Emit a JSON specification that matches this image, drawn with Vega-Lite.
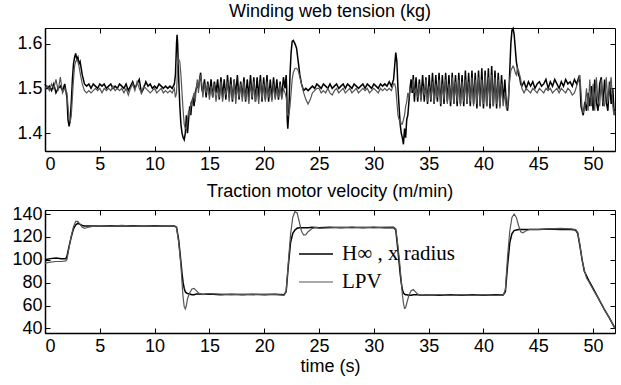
{
"$schema": "https://vega.github.io/schema/vega-lite/v6.json",
"background": "white",
"padding": {"left": 4, "top": 2, "right": 6, "bottom": 4},
"config": {
 "font": "Liberation Sans",
 "view": {"stroke": "black", "strokeWidth": 1},
 "axis": {"labelFont": "Liberation Sans", "labelFontSize": 18, "labelColor": "black", "tickColor": "black", "domainColor": "black", "domainWidth": 1.5, "tickSize": -5, "tickWidth": 1, "grid": false, "titleFont": "Liberation Sans", "titleFontSize": 18, "titleFontWeight": "normal", "titleColor": "black", "labelPadding": 8},
 "axisX": {"labelPadding": 9},
 "title": {"font": "Liberation Sans", "fontSize": 18, "fontWeight": "normal", "color": "black", "offset": 4},
 "legend": {"padding": 0}
},
"datasets": {
"tension": [
{"t":0.0,"Hinf":1.51,"LPV":1.50},{"t":0.2,"Hinf":1.50,"LPV":1.505},{"t":0.4,"Hinf":1.505,"LPV":1.495},{"t":0.6,"Hinf":1.495,"LPV":1.51},{"t":0.8,"Hinf":1.51,"LPV":1.50},{"t":1.0,"Hinf":1.49,"LPV":1.52},{"t":1.2,"Hinf":1.50,"LPV":1.495},{"t":1.4,"Hinf":1.505,"LPV":1.525},{"t":1.6,"Hinf":1.495,"LPV":1.49},{"t":1.8,"Hinf":1.51,"LPV":1.50},
{"t":2.0,"Hinf":1.48,"LPV":1.49},{"t":2.1,"Hinf":1.43,"LPV":1.46},{"t":2.2,"Hinf":1.415,"LPV":1.43},{"t":2.3,"Hinf":1.43,"LPV":1.425},{"t":2.4,"Hinf":1.47,"LPV":1.44},{"t":2.5,"Hinf":1.52,"LPV":1.48},{"t":2.6,"Hinf":1.555,"LPV":1.52},{"t":2.7,"Hinf":1.57,"LPV":1.55},{"t":2.8,"Hinf":1.578,"LPV":1.56},{"t":2.9,"Hinf":1.565,"LPV":1.565},{"t":3.0,"Hinf":1.57,"LPV":1.56},{"t":3.1,"Hinf":1.555,"LPV":1.55},{"t":3.2,"Hinf":1.56,"LPV":1.535},{"t":3.4,"Hinf":1.53,"LPV":1.51},{"t":3.6,"Hinf":1.51,"LPV":1.495},{"t":3.8,"Hinf":1.505,"LPV":1.49},{"t":4.0,"Hinf":1.51,"LPV":1.495},
{"t":4.2,"Hinf":1.50,"LPV":1.49},{"t":4.4,"Hinf":1.51,"LPV":1.495},{"t":4.6,"Hinf":1.505,"LPV":1.50},{"t":4.8,"Hinf":1.50,"LPV":1.495},{"t":5.0,"Hinf":1.51,"LPV":1.50},{"t":5.2,"Hinf":1.505,"LPV":1.49},{"t":5.4,"Hinf":1.51,"LPV":1.50},{"t":5.6,"Hinf":1.50,"LPV":1.495},{"t":5.8,"Hinf":1.505,"LPV":1.50},{"t":6.0,"Hinf":1.51,"LPV":1.495},{"t":6.2,"Hinf":1.50,"LPV":1.505},{"t":6.4,"Hinf":1.505,"LPV":1.495},{"t":6.6,"Hinf":1.50,"LPV":1.50},{"t":6.8,"Hinf":1.51,"LPV":1.495},{"t":7.0,"Hinf":1.505,"LPV":1.50},{"t":7.2,"Hinf":1.50,"LPV":1.49},{"t":7.4,"Hinf":1.51,"LPV":1.50},{"t":7.6,"Hinf":1.495,"LPV":1.485},{"t":7.8,"Hinf":1.505,"LPV":1.50},{"t":8.0,"Hinf":1.515,"LPV":1.51},{"t":8.2,"Hinf":1.50,"LPV":1.495},{"t":8.4,"Hinf":1.51,"LPV":1.515},{"t":8.6,"Hinf":1.52,"LPV":1.50},{"t":8.8,"Hinf":1.49,"LPV":1.49},{"t":9.0,"Hinf":1.50,"LPV":1.505},{"t":9.2,"Hinf":1.515,"LPV":1.50},{"t":9.4,"Hinf":1.505,"LPV":1.495},{"t":9.6,"Hinf":1.51,"LPV":1.49},{"t":9.8,"Hinf":1.50,"LPV":1.495},{"t":10.0,"Hinf":1.505,"LPV":1.50},{"t":10.2,"Hinf":1.50,"LPV":1.49},{"t":10.4,"Hinf":1.51,"LPV":1.495},{"t":10.6,"Hinf":1.505,"LPV":1.50},{"t":10.8,"Hinf":1.50,"LPV":1.49},{"t":11.0,"Hinf":1.505,"LPV":1.495},{"t":11.2,"Hinf":1.50,"LPV":1.49},{"t":11.4,"Hinf":1.505,"LPV":1.495},{"t":11.6,"Hinf":1.50,"LPV":1.49},{"t":11.8,"Hinf":1.51,"LPV":1.50},
{"t":11.9,"Hinf":1.53,"LPV":1.48},{"t":12.0,"Hinf":1.60,"LPV":1.49},{"t":12.05,"Hinf":1.62,"LPV":1.52},{"t":12.1,"Hinf":1.60,"LPV":1.55},{"t":12.2,"Hinf":1.52,"LPV":1.565},{"t":12.3,"Hinf":1.46,"LPV":1.56},{"t":12.4,"Hinf":1.42,"LPV":1.53},{"t":12.5,"Hinf":1.40,"LPV":1.49},{"t":12.6,"Hinf":1.39,"LPV":1.45},{"t":12.7,"Hinf":1.385,"LPV":1.42},{"t":12.8,"Hinf":1.40,"LPV":1.41},{"t":12.9,"Hinf":1.44,"LPV":1.41},{"t":13.0,"Hinf":1.40,"LPV":1.43},{"t":13.1,"Hinf":1.43,"LPV":1.45},{"t":13.2,"Hinf":1.46,"LPV":1.44},{"t":13.3,"Hinf":1.44,"LPV":1.47},{"t":13.4,"Hinf":1.47,"LPV":1.46},{"t":13.5,"Hinf":1.48,"LPV":1.48},{"t":13.6,"Hinf":1.46,"LPV":1.49},{"t":13.7,"Hinf":1.49,"LPV":1.47},{"t":13.8,"Hinf":1.50,"LPV":1.50},{"t":13.9,"Hinf":1.51,"LPV":1.52},{"t":14.0,"Hinf":1.50,"LPV":1.49},{"t":14.1,"Hinf":1.52,"LPV":1.52},{"t":14.2,"Hinf":1.535,"LPV":1.53},{"t":14.3,"Hinf":1.50,"LPV":1.51},{"t":14.4,"Hinf":1.49,"LPV":1.48},{"t":14.55,"Hinf":1.52,"LPV":1.51},
{"t":14.7,"Hinf":1.48,"LPV":1.49},{"t":14.85,"Hinf":1.515,"LPV":1.51},{"t":15.0,"Hinf":1.485,"LPV":1.475},{"t":15.15,"Hinf":1.52,"LPV":1.505},{"t":15.3,"Hinf":1.48,"LPV":1.48},{"t":15.45,"Hinf":1.515,"LPV":1.51},{"t":15.6,"Hinf":1.49,"LPV":1.47},{"t":15.75,"Hinf":1.52,"LPV":1.50},{"t":15.9,"Hinf":1.475,"LPV":1.48},{"t":16.05,"Hinf":1.525,"LPV":1.515},{"t":16.2,"Hinf":1.48,"LPV":1.47},{"t":16.35,"Hinf":1.52,"LPV":1.50},{"t":16.5,"Hinf":1.475,"LPV":1.485},{"t":16.65,"Hinf":1.53,"LPV":1.515},{"t":16.8,"Hinf":1.48,"LPV":1.47},{"t":16.95,"Hinf":1.525,"LPV":1.51},{"t":17.1,"Hinf":1.47,"LPV":1.475},{"t":17.25,"Hinf":1.52,"LPV":1.52},{"t":17.4,"Hinf":1.485,"LPV":1.465},{"t":17.55,"Hinf":1.53,"LPV":1.505},{"t":17.7,"Hinf":1.475,"LPV":1.48},{"t":17.85,"Hinf":1.515,"LPV":1.51},{"t":18.0,"Hinf":1.48,"LPV":1.47},{"t":18.15,"Hinf":1.525,"LPV":1.515},{"t":18.3,"Hinf":1.47,"LPV":1.475},{"t":18.45,"Hinf":1.52,"LPV":1.50},{"t":18.6,"Hinf":1.48,"LPV":1.465},{"t":18.75,"Hinf":1.53,"LPV":1.51},{"t":18.9,"Hinf":1.475,"LPV":1.48},{"t":19.05,"Hinf":1.525,"LPV":1.515},{"t":19.2,"Hinf":1.47,"LPV":1.47},{"t":19.35,"Hinf":1.525,"LPV":1.50},{"t":19.5,"Hinf":1.48,"LPV":1.465},{"t":19.65,"Hinf":1.53,"LPV":1.515},{"t":19.8,"Hinf":1.47,"LPV":1.475},{"t":19.95,"Hinf":1.525,"LPV":1.51},{"t":20.1,"Hinf":1.475,"LPV":1.47},{"t":20.25,"Hinf":1.53,"LPV":1.515},{"t":20.4,"Hinf":1.47,"LPV":1.48},{"t":20.55,"Hinf":1.52,"LPV":1.50},{"t":20.7,"Hinf":1.475,"LPV":1.47},{"t":20.85,"Hinf":1.525,"LPV":1.51},{"t":21.0,"Hinf":1.48,"LPV":1.475},{"t":21.15,"Hinf":1.52,"LPV":1.50},{"t":21.3,"Hinf":1.475,"LPV":1.48},{"t":21.45,"Hinf":1.515,"LPV":1.51},{"t":21.6,"Hinf":1.48,"LPV":1.475},{"t":21.75,"Hinf":1.525,"LPV":1.50},{"t":21.9,"Hinf":1.50,"LPV":1.49},{"t":22.0,"Hinf":1.53,"LPV":1.48},
{"t":22.05,"Hinf":1.50,"LPV":1.47},{"t":22.1,"Hinf":1.43,"LPV":1.45},{"t":22.15,"Hinf":1.41,"LPV":1.44},{"t":22.25,"Hinf":1.45,"LPV":1.44},{"t":22.35,"Hinf":1.53,"LPV":1.46},{"t":22.45,"Hinf":1.58,"LPV":1.49},{"t":22.55,"Hinf":1.605,"LPV":1.52},{"t":22.65,"Hinf":1.607,"LPV":1.535},{"t":22.8,"Hinf":1.60,"LPV":1.545},{"t":22.95,"Hinf":1.59,"LPV":1.545},{"t":23.1,"Hinf":1.56,"LPV":1.54},{"t":23.25,"Hinf":1.53,"LPV":1.525},{"t":23.4,"Hinf":1.51,"LPV":1.51},{"t":23.6,"Hinf":1.495,"LPV":1.49},{"t":23.8,"Hinf":1.50,"LPV":1.475},{"t":24.0,"Hinf":1.495,"LPV":1.465},{"t":24.2,"Hinf":1.50,"LPV":1.475},{"t":24.4,"Hinf":1.505,"LPV":1.49},{"t":24.6,"Hinf":1.50,"LPV":1.495},{"t":24.8,"Hinf":1.51,"LPV":1.50},
{"t":25.0,"Hinf":1.505,"LPV":1.50},{"t":25.2,"Hinf":1.50,"LPV":1.49},{"t":25.4,"Hinf":1.51,"LPV":1.495},{"t":25.6,"Hinf":1.505,"LPV":1.49},{"t":25.8,"Hinf":1.50,"LPV":1.50},{"t":26.0,"Hinf":1.51,"LPV":1.49},{"t":26.2,"Hinf":1.50,"LPV":1.485},{"t":26.4,"Hinf":1.505,"LPV":1.495},{"t":26.6,"Hinf":1.51,"LPV":1.50},{"t":26.8,"Hinf":1.50,"LPV":1.49},{"t":27.0,"Hinf":1.505,"LPV":1.495},{"t":27.2,"Hinf":1.51,"LPV":1.50},{"t":27.4,"Hinf":1.50,"LPV":1.49},{"t":27.6,"Hinf":1.51,"LPV":1.495},{"t":27.8,"Hinf":1.505,"LPV":1.50},{"t":28.0,"Hinf":1.50,"LPV":1.49},{"t":28.2,"Hinf":1.51,"LPV":1.495},{"t":28.4,"Hinf":1.505,"LPV":1.50},{"t":28.6,"Hinf":1.50,"LPV":1.49},{"t":28.8,"Hinf":1.505,"LPV":1.495},{"t":29.0,"Hinf":1.51,"LPV":1.50},{"t":29.2,"Hinf":1.50,"LPV":1.495},{"t":29.4,"Hinf":1.51,"LPV":1.50},{"t":29.6,"Hinf":1.505,"LPV":1.49},{"t":29.8,"Hinf":1.50,"LPV":1.495},{"t":30.0,"Hinf":1.51,"LPV":1.50},{"t":30.2,"Hinf":1.505,"LPV":1.495},{"t":30.4,"Hinf":1.50,"LPV":1.49},{"t":30.6,"Hinf":1.51,"LPV":1.50},{"t":30.8,"Hinf":1.505,"LPV":1.495},{"t":31.0,"Hinf":1.51,"LPV":1.50},{"t":31.2,"Hinf":1.505,"LPV":1.495},{"t":31.4,"Hinf":1.515,"LPV":1.50},{"t":31.6,"Hinf":1.505,"LPV":1.495},{"t":31.8,"Hinf":1.52,"LPV":1.51},
{"t":31.9,"Hinf":1.55,"LPV":1.51},{"t":32.0,"Hinf":1.58,"LPV":1.50},{"t":32.1,"Hinf":1.56,"LPV":1.47},{"t":32.2,"Hinf":1.50,"LPV":1.44},{"t":32.3,"Hinf":1.46,"LPV":1.43},{"t":32.4,"Hinf":1.42,"LPV":1.43},{"t":32.5,"Hinf":1.40,"LPV":1.42},{"t":32.6,"Hinf":1.39,"LPV":1.42},{"t":32.7,"Hinf":1.375,"LPV":1.43},{"t":32.8,"Hinf":1.41,"LPV":1.44},{"t":32.9,"Hinf":1.39,"LPV":1.46},{"t":33.0,"Hinf":1.43,"LPV":1.47},{"t":33.1,"Hinf":1.44,"LPV":1.49},{"t":33.2,"Hinf":1.47,"LPV":1.48},{"t":33.3,"Hinf":1.50,"LPV":1.50},{"t":33.4,"Hinf":1.52,"LPV":1.49},{"t":33.5,"Hinf":1.49,"LPV":1.50},{"t":33.6,"Hinf":1.53,"LPV":1.52},{"t":33.7,"Hinf":1.47,"LPV":1.49},
{"t":33.85,"Hinf":1.525,"LPV":1.50},{"t":34.0,"Hinf":1.47,"LPV":1.48},{"t":34.15,"Hinf":1.52,"LPV":1.51},{"t":34.3,"Hinf":1.475,"LPV":1.47},{"t":34.45,"Hinf":1.53,"LPV":1.505},{"t":34.6,"Hinf":1.47,"LPV":1.485},{"t":34.75,"Hinf":1.525,"LPV":1.52},{"t":34.9,"Hinf":1.465,"LPV":1.47},{"t":35.05,"Hinf":1.53,"LPV":1.505},{"t":35.2,"Hinf":1.47,"LPV":1.475},{"t":35.35,"Hinf":1.535,"LPV":1.515},{"t":35.5,"Hinf":1.465,"LPV":1.465},{"t":35.65,"Hinf":1.53,"LPV":1.51},{"t":35.8,"Hinf":1.47,"LPV":1.48},{"t":35.95,"Hinf":1.535,"LPV":1.52},{"t":36.1,"Hinf":1.46,"LPV":1.465},{"t":36.25,"Hinf":1.53,"LPV":1.51},{"t":36.4,"Hinf":1.465,"LPV":1.475},{"t":36.55,"Hinf":1.535,"LPV":1.52},{"t":36.7,"Hinf":1.47,"LPV":1.465},{"t":36.85,"Hinf":1.53,"LPV":1.51},{"t":37.0,"Hinf":1.46,"LPV":1.47},{"t":37.15,"Hinf":1.535,"LPV":1.525},{"t":37.3,"Hinf":1.465,"LPV":1.465},{"t":37.45,"Hinf":1.53,"LPV":1.515},{"t":37.6,"Hinf":1.46,"LPV":1.47},{"t":37.75,"Hinf":1.535,"LPV":1.52},{"t":37.9,"Hinf":1.465,"LPV":1.46},{"t":38.05,"Hinf":1.53,"LPV":1.515},{"t":38.2,"Hinf":1.46,"LPV":1.47},{"t":38.35,"Hinf":1.54,"LPV":1.52},{"t":38.5,"Hinf":1.465,"LPV":1.465},{"t":38.65,"Hinf":1.535,"LPV":1.515},{"t":38.8,"Hinf":1.46,"LPV":1.47},{"t":38.95,"Hinf":1.54,"LPV":1.525},{"t":39.1,"Hinf":1.465,"LPV":1.46},{"t":39.25,"Hinf":1.535,"LPV":1.52},{"t":39.4,"Hinf":1.455,"LPV":1.465},{"t":39.55,"Hinf":1.54,"LPV":1.525},{"t":39.7,"Hinf":1.46,"LPV":1.46},{"t":39.85,"Hinf":1.545,"LPV":1.52},{"t":40.0,"Hinf":1.455,"LPV":1.465},{"t":40.15,"Hinf":1.54,"LPV":1.53},{"t":40.3,"Hinf":1.46,"LPV":1.46},{"t":40.45,"Hinf":1.545,"LPV":1.525},{"t":40.6,"Hinf":1.455,"LPV":1.465},{"t":40.75,"Hinf":1.55,"LPV":1.53},{"t":40.9,"Hinf":1.46,"LPV":1.46},{"t":41.05,"Hinf":1.54,"LPV":1.525},{"t":41.2,"Hinf":1.455,"LPV":1.465},{"t":41.35,"Hinf":1.535,"LPV":1.52},{"t":41.5,"Hinf":1.46,"LPV":1.455},{"t":41.65,"Hinf":1.53,"LPV":1.51},{"t":41.8,"Hinf":1.47,"LPV":1.46},{"t":41.95,"Hinf":1.52,"LPV":1.49},{"t":42.1,"Hinf":1.46,"LPV":1.455},
{"t":42.2,"Hinf":1.45,"LPV":1.46},{"t":42.3,"Hinf":1.48,"LPV":1.49},{"t":42.4,"Hinf":1.54,"LPV":1.52},{"t":42.5,"Hinf":1.60,"LPV":1.54},{"t":42.6,"Hinf":1.63,"LPV":1.545},{"t":42.7,"Hinf":1.634,"LPV":1.55},{"t":42.8,"Hinf":1.62,"LPV":1.545},{"t":42.9,"Hinf":1.59,"LPV":1.535},{"t":43.0,"Hinf":1.56,"LPV":1.53},{"t":43.1,"Hinf":1.545,"LPV":1.545},{"t":43.2,"Hinf":1.53,"LPV":1.54},{"t":43.3,"Hinf":1.525,"LPV":1.53},{"t":43.4,"Hinf":1.51,"LPV":1.52},{"t":43.5,"Hinf":1.505,"LPV":1.50},{"t":43.7,"Hinf":1.515,"LPV":1.49},{"t":43.9,"Hinf":1.50,"LPV":1.50},{"t":44.1,"Hinf":1.515,"LPV":1.495},
{"t":44.3,"Hinf":1.505,"LPV":1.49},{"t":44.5,"Hinf":1.515,"LPV":1.50},{"t":44.7,"Hinf":1.50,"LPV":1.495},{"t":44.9,"Hinf":1.51,"LPV":1.49},{"t":45.1,"Hinf":1.515,"LPV":1.50},{"t":45.3,"Hinf":1.505,"LPV":1.495},{"t":45.5,"Hinf":1.51,"LPV":1.49},{"t":45.7,"Hinf":1.52,"LPV":1.50},{"t":45.9,"Hinf":1.50,"LPV":1.495},{"t":46.1,"Hinf":1.515,"LPV":1.50},{"t":46.3,"Hinf":1.505,"LPV":1.49},{"t":46.5,"Hinf":1.52,"LPV":1.495},{"t":46.7,"Hinf":1.51,"LPV":1.50},{"t":46.9,"Hinf":1.50,"LPV":1.49},{"t":47.1,"Hinf":1.515,"LPV":1.50},{"t":47.3,"Hinf":1.505,"LPV":1.495},{"t":47.5,"Hinf":1.52,"LPV":1.49},{"t":47.7,"Hinf":1.51,"LPV":1.50},{"t":47.9,"Hinf":1.515,"LPV":1.495},{"t":48.1,"Hinf":1.505,"LPV":1.485},{"t":48.3,"Hinf":1.52,"LPV":1.49},{"t":48.5,"Hinf":1.51,"LPV":1.505},{"t":48.7,"Hinf":1.525,"LPV":1.52},{"t":48.8,"Hinf":1.515,"LPV":1.53},{"t":48.9,"Hinf":1.46,"LPV":1.49},{"t":49.0,"Hinf":1.45,"LPV":1.455},{"t":49.1,"Hinf":1.44,"LPV":1.445},
{"t":49.25,"Hinf":1.47,"LPV":1.46},{"t":49.4,"Hinf":1.45,"LPV":1.50},{"t":49.55,"Hinf":1.49,"LPV":1.45},{"t":49.7,"Hinf":1.46,"LPV":1.52},{"t":49.85,"Hinf":1.505,"LPV":1.46},{"t":50.0,"Hinf":1.45,"LPV":1.51},{"t":50.15,"Hinf":1.52,"LPV":1.45},{"t":50.3,"Hinf":1.47,"LPV":1.525},{"t":50.45,"Hinf":1.45,"LPV":1.47},{"t":50.6,"Hinf":1.51,"LPV":1.46},{"t":50.75,"Hinf":1.525,"LPV":1.52},{"t":50.9,"Hinf":1.46,"LPV":1.47},{"t":51.05,"Hinf":1.52,"LPV":1.46},{"t":51.2,"Hinf":1.47,"LPV":1.525},{"t":51.35,"Hinf":1.45,"LPV":1.47},{"t":51.5,"Hinf":1.515,"LPV":1.50},{"t":51.65,"Hinf":1.465,"LPV":1.525},{"t":51.8,"Hinf":1.50,"LPV":1.46},{"t":51.9,"Hinf":1.455,"LPV":1.44},{"t":52.0,"Hinf":1.44,"LPV":1.45}
],
"velocity": [
{"t":0.0,"Hinf":100,"LPV":97},{"t":0.5,"Hinf":101,"LPV":98},{"t":1.0,"Hinf":101.5,"LPV":98.5},{"t":1.5,"Hinf":101,"LPV":98.5},{"t":1.9,"Hinf":101,"LPV":99},{"t":2.0,"Hinf":103,"LPV":100},{"t":2.2,"Hinf":112,"LPV":111},{"t":2.4,"Hinf":120,"LPV":121},{"t":2.6,"Hinf":127,"LPV":129},{"t":2.8,"Hinf":130.5,"LPV":133.5},{"t":3.0,"Hinf":132,"LPV":133.5},{"t":3.2,"Hinf":131,"LPV":131},{"t":3.4,"Hinf":130,"LPV":128.5},{"t":3.6,"Hinf":129.5,"LPV":127.5},{"t":3.8,"Hinf":129.5,"LPV":128},{"t":4.0,"Hinf":129.5,"LPV":128.5},{"t":4.5,"Hinf":129.5,"LPV":129.5},{"t":5.0,"Hinf":129.5,"LPV":129.8},{"t":6.0,"Hinf":129.8,"LPV":129.5},{"t":7.0,"Hinf":129.5,"LPV":130},{"t":8.0,"Hinf":129.7,"LPV":129.5},{"t":9.0,"Hinf":129.5,"LPV":129.8},{"t":10.0,"Hinf":129.8,"LPV":129.5},{"t":11.0,"Hinf":129.5,"LPV":129.8},{"t":11.8,"Hinf":129.5,"LPV":129.5},
{"t":12.0,"Hinf":128.5,"LPV":128},{"t":12.2,"Hinf":117,"LPV":115},{"t":12.4,"Hinf":98,"LPV":95},{"t":12.5,"Hinf":88,"LPV":80},{"t":12.6,"Hinf":80,"LPV":67},{"t":12.7,"Hinf":75,"LPV":59},{"t":12.8,"Hinf":72,"LPV":57},{"t":12.9,"Hinf":71,"LPV":60},{"t":13.0,"Hinf":70.5,"LPV":66},{"t":13.2,"Hinf":70,"LPV":71},{"t":13.4,"Hinf":69.5,"LPV":74.5},{"t":13.6,"Hinf":69.5,"LPV":75},{"t":13.8,"Hinf":70,"LPV":73},{"t":14.0,"Hinf":70,"LPV":71},{"t":14.4,"Hinf":69.8,"LPV":69.5},{"t":15.0,"Hinf":70,"LPV":70.5},{"t":16.0,"Hinf":69.5,"LPV":70},{"t":17.0,"Hinf":69.8,"LPV":69.5},{"t":18.0,"Hinf":69.5,"LPV":70},{"t":19.0,"Hinf":69.8,"LPV":69.5},{"t":20.0,"Hinf":69.5,"LPV":70},{"t":21.0,"Hinf":69.8,"LPV":69.8},{"t":21.8,"Hinf":69.5,"LPV":69},
{"t":22.0,"Hinf":72,"LPV":72},{"t":22.2,"Hinf":95,"LPV":98},{"t":22.4,"Hinf":115,"LPV":122},{"t":22.6,"Hinf":123,"LPV":137},{"t":22.8,"Hinf":126,"LPV":142},{"t":23.0,"Hinf":127.5,"LPV":141},{"t":23.2,"Hinf":128,"LPV":133},{"t":23.4,"Hinf":128,"LPV":125},{"t":23.6,"Hinf":128,"LPV":121.5},{"t":23.8,"Hinf":128,"LPV":122},{"t":24.0,"Hinf":128,"LPV":124.5},{"t":24.4,"Hinf":128.5,"LPV":127.5},{"t":24.8,"Hinf":128,"LPV":128.5},{"t":25.0,"Hinf":128,"LPV":127.5},{"t":26.0,"Hinf":128.5,"LPV":128},{"t":27.0,"Hinf":128,"LPV":128.5},{"t":28.0,"Hinf":128.5,"LPV":128},{"t":29.0,"Hinf":128,"LPV":128.5},{"t":30.0,"Hinf":128.5,"LPV":128},{"t":31.0,"Hinf":128,"LPV":128.5},{"t":31.8,"Hinf":128.3,"LPV":128.5},
{"t":32.0,"Hinf":126,"LPV":127},{"t":32.2,"Hinf":108,"LPV":112},{"t":32.4,"Hinf":88,"LPV":93},{"t":32.5,"Hinf":80,"LPV":81},{"t":32.6,"Hinf":74,"LPV":70},{"t":32.7,"Hinf":71,"LPV":62},{"t":32.8,"Hinf":70,"LPV":57.5},{"t":32.9,"Hinf":69.5,"LPV":58},{"t":33.0,"Hinf":69.5,"LPV":62},{"t":33.2,"Hinf":69,"LPV":69},{"t":33.4,"Hinf":69,"LPV":73},{"t":33.6,"Hinf":69.5,"LPV":74},{"t":33.8,"Hinf":69.5,"LPV":72},{"t":34.0,"Hinf":69.5,"LPV":70},{"t":34.4,"Hinf":69,"LPV":69},{"t":35.0,"Hinf":69.5,"LPV":69.5},{"t":36.0,"Hinf":69,"LPV":69.5},{"t":37.0,"Hinf":69.5,"LPV":69},{"t":38.0,"Hinf":69,"LPV":69.5},{"t":39.0,"Hinf":69.5,"LPV":69},{"t":40.0,"Hinf":69,"LPV":69.5},{"t":41.0,"Hinf":69.5,"LPV":69},{"t":41.8,"Hinf":69.2,"LPV":69},
{"t":42.0,"Hinf":72,"LPV":74},{"t":42.2,"Hinf":95,"LPV":103},{"t":42.4,"Hinf":115,"LPV":125},{"t":42.6,"Hinf":123,"LPV":137},{"t":42.8,"Hinf":125.5,"LPV":140},{"t":43.0,"Hinf":126,"LPV":137},{"t":43.2,"Hinf":126.5,"LPV":130},{"t":43.4,"Hinf":126.5,"LPV":124.5},{"t":43.6,"Hinf":126.5,"LPV":123.5},{"t":43.8,"Hinf":126.5,"LPV":125},{"t":44.2,"Hinf":126.5,"LPV":126.5},{"t":45.0,"Hinf":126.5,"LPV":126.5},{"t":46.0,"Hinf":126.8,"LPV":127},{"t":47.0,"Hinf":126.5,"LPV":127.5},{"t":48.0,"Hinf":126.5,"LPV":127},{"t":48.4,"Hinf":126,"LPV":126.5},
{"t":48.6,"Hinf":123,"LPV":124},{"t":48.8,"Hinf":112,"LPV":113},{"t":49.0,"Hinf":100,"LPV":100},{"t":49.2,"Hinf":90,"LPV":91},{"t":49.4,"Hinf":86,"LPV":84},{"t":49.6,"Hinf":82,"LPV":81},{"t":50.0,"Hinf":75,"LPV":74},{"t":50.5,"Hinf":66,"LPV":66},{"t":51.0,"Hinf":57,"LPV":57},{"t":51.5,"Hinf":49,"LPV":49},{"t":52.0,"Hinf":40,"LPV":40}
]
},
"spacing": 8,
"resolve": {"scale": {"color": "independent", "strokeWidth": "independent"}, "legend": {"color": "independent", "strokeWidth": "independent"}},
"vconcat": [
{
 "width": 570, "height": 123,
 "title": {"text": "Winding web tension (kg)"},
 "data": {"name": "tension"},
 "transform": [{"fold": ["Hinf", "LPV"], "as": ["series", "value"]}],
 "layer": [
  {"mark": {"type": "line", "strokeOpacity": 0},
   "encoding": {
    "x": {"field": "t", "type": "quantitative", "scale": {"domain": [0, 52], "nice": false, "zero": false}, "axis": {"orient": "top", "labels": false, "domain": false, "title": null, "values": [0,5,10,15,20,25,30,35,40,45,50], "minExtent": 0, "maxExtent": 0}},
    "y": {"field": "value", "type": "quantitative", "scale": {"domain": [1.36, 1.635], "nice": false, "zero": false}, "axis": {"orient": "right", "labels": false, "domain": false, "title": null, "values": [1.4, 1.5, 1.6], "minExtent": 0, "maxExtent": 0}},
    "detail": {"field": "series"}
   }},
  {"mark": {"type": "line"},
   "encoding": {
    "x": {"field": "t", "type": "quantitative", "scale": {"domain": [0, 52], "nice": false, "zero": false}, "axis": {"orient": "bottom", "title": null, "values": [0,5,10,15,20,25,30,35,40,45,50]}},
    "y": {"field": "value", "type": "quantitative", "scale": {"domain": [1.36, 1.635], "nice": false, "zero": false}, "axis": {"orient": "left", "title": null, "values": [1.4, 1.5, 1.6], "format": ".1f", "minExtent": 40, "maxExtent": 40}},
    "color": {"field": "series", "type": "nominal", "scale": {"domain": ["Hinf", "LPV"], "range": ["#000000", "#555555"]}, "legend": null},
    "strokeWidth": {"field": "series", "type": "nominal", "scale": {"domain": ["Hinf", "LPV"], "range": [1.5, 1.2]}, "legend": null}
   }}
 ],
 "resolve": {"axis": {"x": "independent", "y": "independent"}}
},
{
 "width": 570, "height": 123,
 "title": {"text": "Traction motor velocity (m/min)"},
 "data": {"name": "velocity"},
 "transform": [{"fold": ["Hinf", "LPV"], "as": ["series", "value"]}],
 "layer": [
  {"mark": {"type": "line", "strokeOpacity": 0},
   "encoding": {
    "x": {"field": "t", "type": "quantitative", "scale": {"domain": [0, 52], "nice": false, "zero": false}, "axis": {"orient": "top", "labels": false, "domain": false, "title": null, "values": [0,5,10,15,20,25,30,35,40,45,50], "minExtent": 0, "maxExtent": 0}},
    "y": {"field": "value", "type": "quantitative", "scale": {"domain": [36, 143.5], "nice": false, "zero": false}, "axis": {"orient": "right", "labels": false, "domain": false, "title": null, "values": [40,60,80,100,120,140], "minExtent": 0, "maxExtent": 0}},
    "detail": {"field": "series"}
   }},
  {"mark": {"type": "line"},
   "encoding": {
    "x": {"field": "t", "type": "quantitative", "scale": {"domain": [0, 52], "nice": false, "zero": false}, "axis": {"orient": "bottom", "title": "time (s)", "titlePadding": 2, "values": [0,5,10,15,20,25,30,35,40,45,50]}},
    "y": {"field": "value", "type": "quantitative", "scale": {"domain": [36, 143.5], "nice": false, "zero": false}, "axis": {"orient": "left", "title": null, "values": [40,60,80,100,120,140], "minExtent": 40, "maxExtent": 40}},
    "color": {"field": "series", "type": "nominal", "scale": {"domain": ["Hinf", "LPV"], "range": ["#000000", "#555555"]},
      "legend": {"orient": "none", "legendX": 253, "legendY": 26, "title": null, "symbolType": "stroke", "symbolSize": 1150, "symbolStrokeWidth": 1.2, "labelFont": "Liberation Serif", "labelFontSize": 21, "labelColor": "black", "labelOffset": 8, "rowPadding": 0, "padding": 0, "labelExpr": "datum.label == 'Hinf' ? 'H∞ , x radius' : 'LPV'"}},
    "strokeWidth": {"field": "series", "type": "nominal", "scale": {"domain": ["Hinf", "LPV"], "range": [1.5, 1.2]}, "legend": null}
   }}
 ],
 "resolve": {"axis": {"x": "independent", "y": "independent"}}
}
]
}
